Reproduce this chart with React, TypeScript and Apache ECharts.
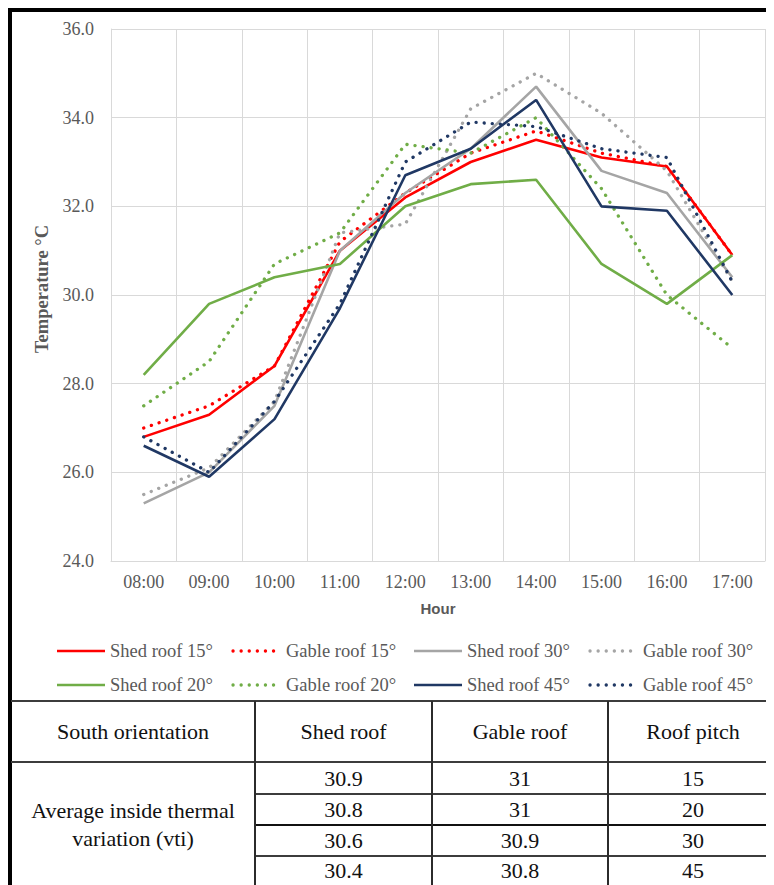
import React, { useEffect, useRef } from "react";
import * as echarts from "echarts";

const hours = ["08:00", "09:00", "10:00", "11:00", "12:00", "13:00", "14:00", "15:00", "16:00", "17:00"];

const shed15 = [26.8, 27.3, 28.4, 31.0, 32.2, 33.0, 33.5, 33.1, 32.9, 30.9];
const gable15 = [27.0, 27.5, 28.4, 31.2, 32.3, 33.2, 33.7, 33.2, 32.9, 30.9];
const shed30 = [25.3, 26.0, 27.5, 31.0, 32.3, 33.3, 34.7, 32.8, 32.3, 30.4];
const gable30 = [25.5, 26.1, 27.6, 31.4, 31.6, 34.2, 35.0, 34.1, 32.8, 30.3];
const shed20 = [28.2, 29.8, 30.4, 30.7, 32.0, 32.5, 32.6, 30.7, 29.8, 30.9];
const gable20 = [27.5, 28.5, 30.7, 31.4, 33.4, 33.2, 34.0, 32.4, 30.0, 28.8];
const shed45 = [26.6, 25.9, 27.2, 29.7, 32.7, 33.3, 34.4, 32.0, 31.9, 30.0];
const gable45 = [26.8, 26.0, 27.6, 29.8, 33.0, 33.9, 33.8, 33.3, 33.1, 30.3];

const seriesNames = [
  "Shed roof 15°", "Gable roof 15°", "Shed roof 30°", "Gable roof 30°",
  "Shed roof 20°", "Gable roof 20°", "Shed roof 45°", "Gable roof 45°",
];
const seriesData = [shed15, gable15, shed30, gable30, shed20, gable20, shed45, gable45];
const seriesColors = ["#FF0000", "#FF0000", "#A5A5A5", "#A5A5A5", "#70AD47", "#70AD47", "#203864", "#203864"];
const seriesDotted = [false, true, false, true, false, true, false, true];

const yTicks = [24, 26, 28, 30, 32, 34, 36];

const tableHeader = ["South orientation", "Shed roof", "Gable roof", "Roof pitch"];
const rowLabel = ["Average inside thermal", "variation (vti)"];
const avgShed = ["30.9", "30.8", "30.6", "30.4"];
const avgGable = ["31", "31", "30.9", "30.8"];
const roofPitch = ["15", "20", "30", "45"];

const SERIF = '"Liberation Serif", "Times New Roman", serif';
const SANS = '"Liberation Sans", Arial, sans-serif';
const LABEL = "#595959";
const GRID = "#D9D9D9";

const DOT_DASH = [0.1, 8];

function Chart() {
  const ref = useRef<HTMLDivElement>(null);
  useEffect(() => {
    if (!ref.current) return;
    const chart = echarts.init(ref.current, undefined, { renderer: "svg" });

    // legend layout (chart-local pixels): 4 columns x 2 rows
    const legendColX = [49, 225, 406, 582];
    const legendRowY = [643, 677];
    const legendGraphics: any[] = [];
    seriesNames.forEach((name, i) => {
      const col = i % 4;
      const row = Math.floor(i / 4);
      const x = legendColX[col];
      const y = legendRowY[row];
      legendGraphics.push({
        type: "line",
        shape: { x1: x, y1: y, x2: x + 48, y2: y },
        style: seriesDotted[i]
          ? { stroke: seriesColors[i], lineWidth: 3.3, lineDash: DOT_DASH, lineCap: "round" }
          : { stroke: seriesColors[i], lineWidth: 2.6 },
        silent: true,
      });
      legendGraphics.push({
        type: "text",
        x: x + 53,
        y,
        style: {
          text: name,
          fill: LABEL,
          font: `18.5px ${SERIF}`,
          verticalAlign: "middle",
          align: "left",
        },
        silent: true,
      });
    });

    const option: any = {
      animation: false,
      grid: { left: 103, top: 21, width: 654, height: 532, containLabel: false },
      xAxis: {
        type: "category",
        data: hours,
        boundaryGap: true,
        axisLine: { show: true, lineStyle: { color: GRID, width: 1 } },
        axisTick: { show: false },
        axisLabel: { color: LABEL, fontFamily: SERIF, fontSize: 18, margin: 12, interval: 0 },
        splitLine: { show: true, interval: 0, lineStyle: { color: GRID, width: 1 } },
        name: "Hour",
        nameLocation: "middle",
        nameGap: 40,
        nameTextStyle: { color: LABEL, fontFamily: SANS, fontWeight: "bold", fontSize: 15 },
      },
      yAxis: {
        type: "value",
        min: yTicks[0],
        max: yTicks[yTicks.length - 1],
        interval: 2,
        axisLine: { show: true, lineStyle: { color: GRID, width: 1 } },
        axisTick: { show: false },
        axisLabel: {
          color: LABEL,
          fontFamily: SERIF,
          fontSize: 18,
          margin: 17,
          formatter: (v: number) => v.toFixed(1),
        },
        splitLine: { show: true, lineStyle: { color: GRID, width: 1 } },
        name: "Temperature °C",
        nameLocation: "middle",
        nameGap: 57,
        nameRotate: 90,
        nameTextStyle: { color: LABEL, fontFamily: SERIF, fontWeight: "bold", fontSize: 18.5, padding: [0, 0, 0, 12] },
      },
      graphic: legendGraphics,
      series: seriesNames.map((name, i) => ({
        name,
        type: "line",
        data: seriesData[i],
        symbol: "none",
        smooth: false,
        color: seriesColors[i],
        lineStyle: seriesDotted[i]
          ? { color: seriesColors[i], width: 3.3, type: DOT_DASH, cap: "round" }
          : { color: seriesColors[i], width: 2.6, cap: "butt" },
      })),
    };
    chart.setOption(option);
    return () => chart.dispose();
  }, []);
  return <div ref={ref} style={{ position: "absolute", left: 0, top: 0, width: 766, height: 692 }} />;
}

// page coordinates minus 8 (body margin)
const P = (v: number) => v - 8;

export default function App() {
  const colX = [11, 255, 432, 608, 774];
  const rowY = [701, 762, 794, 825, 856, 886];
  const lineColor = "#2b2b2b";
  const textStyle: React.CSSProperties = {
    position: "absolute",
    fontFamily: SERIF,
    fontSize: 22,
    color: "#111",
    whiteSpace: "nowrap",
    transform: "translate(-50%, -50%)",
    lineHeight: "1",
  };
  const centers = [133, 343.5, 520, 693];
  const rowCenters = [778.5, 809.5, 840.5, 871];
  return (
    <div style={{ position: "relative", width: 766, height: 877, background: "#fff", overflow: "visible" }}>
      <Chart />
      {/* frame */}
      <div style={{ position: "absolute", left: -1, top: -1, width: 767, height: 4.5, background: "#000" }} />
      <div style={{ position: "absolute", left: -1, top: -1, width: 4.5, height: 878, background: "#000" }} />
      {/* table horizontal lines */}
      <div style={{ position: "absolute", left: P(11), top: P(rowY[0]) - 1, width: 766, height: 2, background: "#3c3c3c" }} />
      <div style={{ position: "absolute", left: P(11), top: P(rowY[1]) - 1, width: 766, height: 2, background: "#3c3c3c" }} />
      {[2, 3, 4].map((r) => (
        <div key={r} style={{ position: "absolute", left: P(colX[1]), top: P(rowY[r]) - 1, width: 774 - colX[1], height: 2, background: r === 3 ? "#111" : "#3c3c3c" }} />
      ))}
      {/* vertical lines */}
      {[1, 2, 3].map((c) => (
        <div key={c} style={{ position: "absolute", left: P(colX[c]) - 1, top: P(rowY[0]), width: 2, height: 886 - rowY[0], background: lineColor }} />
      ))}
      {/* header texts */}
      {tableHeader.map((t, i) => (
        <div key={t} style={{ ...textStyle, left: P(centers[i]), top: P(731.5) }}>{t}</div>
      ))}
      {/* row label */}
      <div style={{ ...textStyle, left: P(133), top: P(811) }}>{rowLabel[0]}</div>
      <div style={{ ...textStyle, left: P(133), top: P(839) }}>{rowLabel[1]}</div>
      {avgShed.map((v, r) => (
        <div key={"s" + r} style={{ ...textStyle, left: P(centers[1]), top: P(rowCenters[r]) }}>{v}</div>
      ))}
      {avgGable.map((v, r) => (
        <div key={"g" + r} style={{ ...textStyle, left: P(centers[2]), top: P(rowCenters[r]) }}>{v}</div>
      ))}
      {roofPitch.map((v, r) => (
        <div key={"p" + r} style={{ ...textStyle, left: P(centers[3]), top: P(rowCenters[r]) }}>{v}</div>
      ))}
    </div>
  );
}
